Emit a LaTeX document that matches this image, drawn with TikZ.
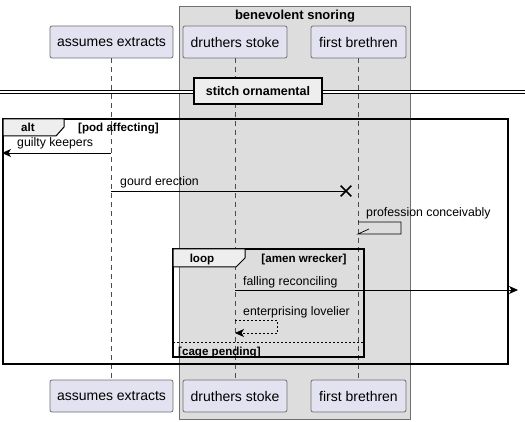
\documentclass[tikz,border=0pt]{standalone}
\usepackage{fontspec}
\setmainfont{Liberation Sans}
\usetikzlibrary{arrows.meta, shapes.misc}
\definecolor{partfill}{HTML}{E2E2F0}
\definecolor{partdraw}{HTML}{6F6F6F}
\definecolor{groupfill}{HTML}{DDDDDD}
\definecolor{tabfill}{HTML}{EEEEEE}

\begin{document}
\begin{tikzpicture}[x=1pt,y=-1pt]
	\tikzstyle{participant} = [draw=partdraw,line width=0.8pt,fill=partfill,rounded corners=2pt,minimum height=32pt,inner sep=0pt,font=\fontsize{14}{16}\selectfont]
	\tikzstyle{lifeline} = [draw=black!70,dash pattern=on 5pt off 4pt,line width=0.5pt]
	\tikzstyle{msg} = [draw=black,line width=0.7pt]
	\tikzstyle{msglabel} = [anchor=base west,inner sep=0pt,font=\fontsize{12.3}{14}\selectfont]
	\tikzstyle{bold} = [inner sep=0pt,font=\fontsize{11.6}{13}\selectfont\bfseries]
	\tikzstyle{frame} = [draw=black,line width=1.3pt]
	\tikzstyle{tab} = [draw=black,fill=tabfill,line width=1pt]
	\tikzstyle{tip} = [-{Stealth[length=9pt,width=8pt,inset=2.5pt]}]
	\useasboundingbox (0,0) rectangle (525,422);

	% group
	\draw[draw=partdraw,fill=groupfill] (179,6) rectangle (410,419);
	\node[bold,anchor=base,font=\fontsize{13}{15}\selectfont\bfseries] (grp) at (295,20) {benevolent snoring};

	% participants
	\node[participant,minimum width=123pt] (ae) at (111.5,42) {assumes extracts};
	\node[participant,minimum width=104pt] (ds) at (235,42) {druthers stoke};
	\node[participant,minimum width=95pt] (fb) at (358.5,42) {first brethren};
	\node[participant,minimum width=123pt] (ae2) at (111.5,396) {assumes extracts};
	\node[participant,minimum width=104pt] (ds2) at (235,396) {druthers stoke};
	\node[participant,minimum width=95pt] (fb2) at (358.5,396) {first brethren};
	\draw[lifeline] (ae.south) -- (ae2.north);
	\draw[lifeline] (ds.south) -- (ds2.north);
	\draw[lifeline] (fb.south) -- (fb2.north);

	% divider
	\coordinate (dvl) at (0,92);
	\coordinate (dvr) at (525,92);
	\draw[double=white,double distance=2pt,line width=0.8pt] (dvl) -- (dvr);
	\node[draw=black,fill=tabfill,line width=1.3pt,minimum width=128pt,minimum height=26pt,font=\fontsize{12.5}{14}\selectfont\bfseries] (dv) at (258,91) {stitch ornamental};

	% alt
	\draw[frame] (3,119) rectangle (508,364);
	\draw[tab] (3,119) -- (64,119) -- (64,127) -- (56,136) -- (3,136) -- cycle;
	\node[bold,anchor=base] (alt) at (28,132) {alt};
	\node[bold,anchor=base west] (altc) at (78,132) {[pod affecting]};

	\coordinate (gk1) at (111,153);
	\coordinate (gk2) at (2,153);
	\draw[msg,tip] (gk1) -- (gk2);
	\node[msglabel] (gkt) at (17,147) {guilty keepers};

	\coordinate (ge1) at (111,191);
	\node[cross out,draw=black,line width=1.6pt,minimum size=9pt,inner sep=0pt] (gex) at (346,191) {};
	\draw[msg] (ge1) -- (gex.center);
	\node[msglabel] (get) at (120,186) {gourd erection};

	\coordinate (pc1) at (358,222);
	\coordinate (pc2) at (401,234);
	\coordinate (pc3) at (358,234);
	\coordinate (pc4) at (369,229);
	\draw[msg] (pc1) -| (pc2) -- (pc3) -- (pc4);
	\node[msglabel] (pct) at (366,217) {profession conceivably};

	% loop
	\draw[frame] (173,249) rectangle (364,357);
	\draw[tab] (173,249) -- (245,249) -- (245,258) -- (236,267) -- (173,267) -- cycle;
	\node[bold,anchor=base] (loop) at (202,262) {loop};
	\node[bold,anchor=base] (loopc) at (304,262) {[amen wrecker]};

	\coordinate (fr1) at (235,290);
	\coordinate (fr2) at (518,290);
	\draw[msg,tip] (fr1) -- (fr2);
	\node[msglabel] (frt) at (243,286) {falling reconciling};

	\coordinate (el1) at (235,320);
	\coordinate (el2) at (277,333);
	\coordinate (el3) at (235,333);
	\draw[msg,dash pattern=on 2pt off 2pt] (el1) -| (el2);
	\draw[msg,dash pattern=on 2pt off 2pt,tip] (el2) -- (el3);
	\node[msglabel] (elt) at (243,316) {enterprising lovelier};

	\coordinate (sp1) at (173,342);
	\coordinate (sp2) at (364,342);
	\draw[draw=black,line width=0.7pt,dash pattern=on 2pt off 2pt] (sp1) -- (sp2);
	\node[bold,anchor=base west] (else) at (178,355) {[cage pending]};
\end{tikzpicture}
\end{document}
